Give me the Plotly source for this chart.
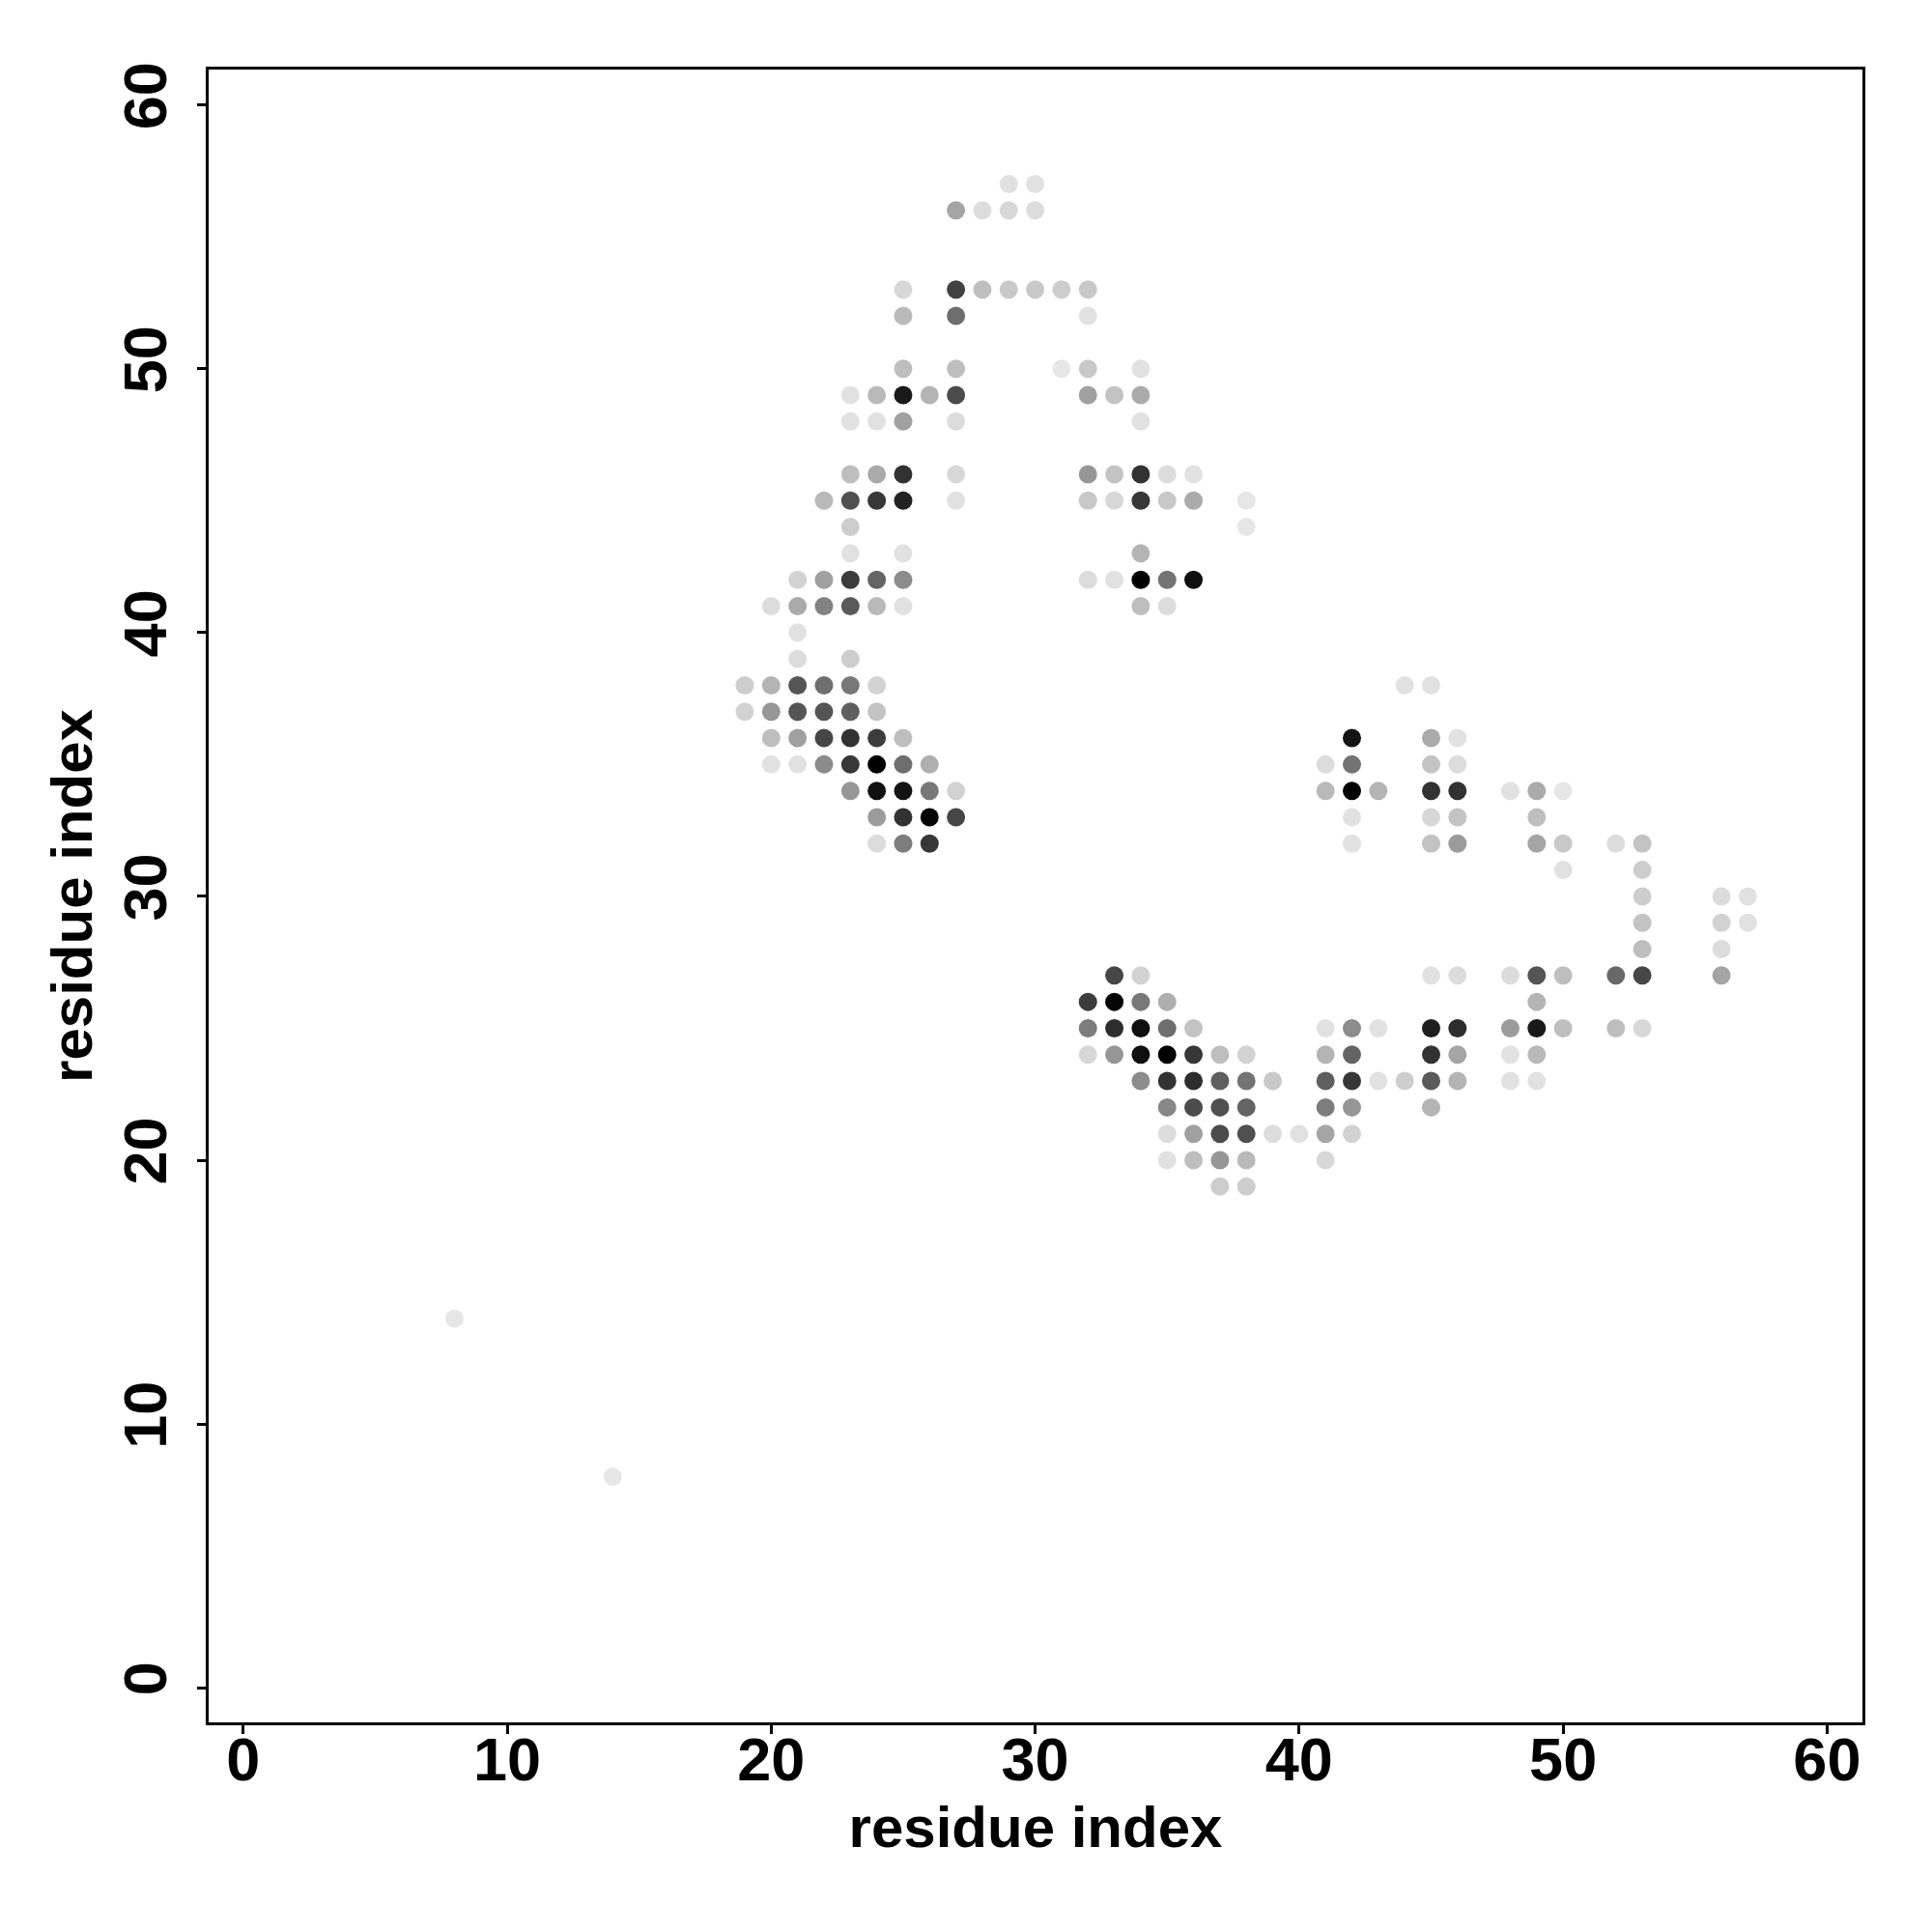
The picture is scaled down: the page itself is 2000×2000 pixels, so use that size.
import plotly.graph_objects as go

# residue pairs (x, y) and gray level of each contact dot (0 = black, 255 = white)
x_idx = [
    23, 24, 25, 27,
    22, 23, 24, 25, 27,
    23,
    23, 25,
    21, 22, 23, 24, 25,
    20, 21, 22, 23, 24, 25,
    21,
    21, 23,
    19, 20, 21, 22, 23, 24,
    19, 20, 21, 22, 23, 24,
    20, 21, 22, 23, 24, 25,
    20, 21, 22, 23, 24, 25, 26,
    23, 24, 25, 26, 27,
    24, 25, 26, 27,
    24, 25, 26,
    29, 30,
    27, 28, 29, 30,
    25, 27, 28, 29, 30, 31, 32,
    25, 27, 32,
    25, 27, 31, 32, 34,
    23, 24, 25, 26, 27, 32, 33, 34,
    23, 24, 25, 27, 34,
    32, 33, 34, 35, 36,
    32, 33, 34, 35, 36, 38,
    38,
    34,
    32, 33, 34, 35, 36,
    34, 35,
    33, 34,
    32, 33, 34, 35,
    32, 33, 34, 35, 36,
    32, 33, 34, 35, 36, 37, 38,
    34, 35, 36, 37, 38, 39,
    35, 36, 37, 38,
    35, 36, 37, 38, 39, 40,
    35, 36, 37, 38,
    37, 38,
    45, 46,
    41, 42, 43, 45, 46,
    41, 42, 45, 46,
    41, 42, 43, 44, 45, 46,
    41, 42, 45,
    41, 42,
    41,
    44, 45,
    42, 45, 46,
    41, 42, 45, 46,
    41, 42, 43, 45, 46, 48, 49, 50,
    42, 45, 46, 49,
    42, 45, 46, 49, 50,
    50,
    52, 53,
    53,
    53, 56, 57,
    53, 56, 57,
    53, 56,
    48, 49, 50, 52, 53, 56,
    49,
    48, 49, 50, 52, 53,
    48, 49,
    48, 49,
    8, 14,
]
y_idx = [
    46, 46, 46, 46,
    45, 45, 45, 45, 45,
    44,
    43, 43,
    42, 42, 42, 42, 42,
    41, 41, 41, 41, 41, 41,
    40,
    39, 39,
    38, 38, 38, 38, 38, 38,
    37, 37, 37, 37, 37, 37,
    36, 36, 36, 36, 36, 36,
    35, 35, 35, 35, 35, 35, 35,
    34, 34, 34, 34, 34,
    33, 33, 33, 33,
    32, 32, 32,
    57, 57,
    56, 56, 56, 56,
    53, 53, 53, 53, 53, 53, 53,
    52, 52, 52,
    50, 50, 50, 50, 50,
    49, 49, 49, 49, 49, 49, 49, 49,
    48, 48, 48, 48, 48,
    46, 46, 46, 46, 46,
    45, 45, 45, 45, 45, 45,
    44,
    43,
    42, 42, 42, 42, 42,
    41, 41,
    27, 27,
    26, 26, 26, 26,
    25, 25, 25, 25, 25,
    24, 24, 24, 24, 24, 24, 24,
    23, 23, 23, 23, 23, 23,
    22, 22, 22, 22,
    21, 21, 21, 21, 21, 21,
    20, 20, 20, 20,
    19, 19,
    27, 27,
    25, 25, 25, 25, 25,
    24, 24, 24, 24,
    23, 23, 23, 23, 23, 23,
    22, 22, 22,
    21, 21,
    20,
    38, 38,
    36, 36, 36,
    35, 35, 35, 35,
    34, 34, 34, 34, 34, 34, 34, 34,
    33, 33, 33, 33,
    32, 32, 32, 32, 32,
    31,
    32, 32,
    31,
    30, 30, 30,
    29, 29, 29,
    28, 28,
    27, 27, 27, 27, 27, 27,
    26,
    25, 25, 25, 25, 25,
    24, 24,
    23, 23,
    14, 8,
]
gray_level = [
    190, 170, 50, 215,
    185, 80, 55, 35, 225,
    205,
    225, 225,
    210, 160, 60, 100, 140,
    220, 170, 130, 90, 185, 225,
    225,
    220, 205,
    205, 180, 85, 110, 120, 210,
    210, 150, 85, 85, 95, 195,
    190, 160, 70, 50, 60, 190,
    225, 225, 140, 55, 0, 110, 175,
    150, 15, 20, 120, 210,
    155, 50, 5, 70,
    220, 125, 55,
    225, 225,
    165, 220, 215, 220,
    215, 65, 190, 200, 200, 205, 200,
    185, 110, 225,
    190, 190, 230, 200, 225,
    225, 185, 25, 180, 75, 160, 195, 170,
    225, 225, 160, 220, 225,
    150, 195, 50, 220, 225,
    200, 215, 55, 200, 170, 230,
    230,
    180,
    220, 225, 0, 115, 15,
    190, 220,
    70, 210,
    60, 5, 120, 175,
    125, 45, 15, 110, 195,
    215, 150, 15, 0, 55, 190, 210,
    140, 50, 45, 95, 115, 200,
    135, 75, 80, 100,
    220, 160, 75, 80, 220, 225,
    225, 190, 150, 185,
    205, 205,
    225, 220,
    225, 140, 225, 30, 45,
    180, 100, 50, 165,
    95, 55, 225, 205, 90, 180,
    125, 150, 180,
    165, 210,
    215,
    225, 225,
    20, 170, 225,
    220, 115, 195, 220,
    185, 0, 180, 50, 50, 225, 170, 230,
    225, 215, 195, 190,
    225, 195, 155, 165, 200,
    225,
    220, 195,
    205,
    205, 220, 225,
    195, 210, 225,
    190, 220,
    220, 85, 190, 105, 70, 165,
    180,
    155, 25, 190, 190, 215,
    225, 185,
    225, 225,
    230, 230,
]
tick_vals = [0, 10, 20, 30, 40, 50, 60]
axis_title = "residue index"

colors = [f"rgb({g},{g},{g})" for g in gray_level]

fig = go.Figure()
fig.add_trace(go.Scatter(
    x=x_idx, y=y_idx, mode="markers",
    marker=dict(size=19, color=colors, line=dict(width=0)),
    showlegend=False, hoverinfo="x+y",
))

tick_font = dict(family="Liberation Sans, Arial, sans-serif", size=63, color="black", weight="bold")
title_font = dict(family="Liberation Sans, Arial, sans-serif", size=60, color="black", weight="bold")

axis_common = dict(
    range=[-1.31, 61.34],
    tickmode="array", tickvals=tick_vals, ticktext=[str(v) for v in tick_vals],
    ticks="outside", ticklen=9, tickwidth=3, tickcolor="black",
    showline=True, linewidth=3, linecolor="black", mirror=True,
    showgrid=False, zeroline=False,
    tickfont=tick_font,
)

fig.update_layout(
    width=2000, height=2000,
    margin=dict(l=208, r=80, t=64, b=225),
    paper_bgcolor="white", plot_bgcolor="white",
    xaxis=dict(**axis_common, title=dict(text=axis_title, font=title_font, standoff=16), ticklabelstandoff=-28),
    yaxis=dict(**axis_common, tickangle=-90, title=dict(text=axis_title, font=title_font, standoff=0), ticklabelstandoff=7),
)

fig.write_html("out.html")
